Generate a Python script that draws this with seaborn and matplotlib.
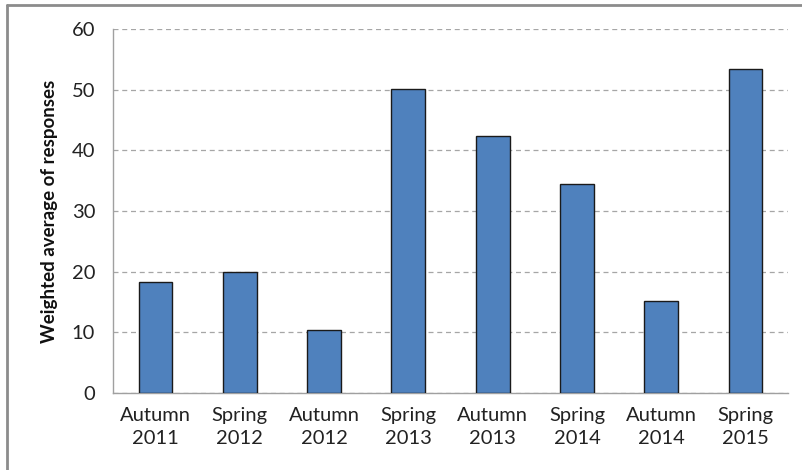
import matplotlib
matplotlib.use("Agg")
import matplotlib.pyplot as plt
from matplotlib.lines import Line2D
import pandas as pd
import seaborn as sns

# datos
periodos = ['Autumn\n2011', 'Spring\n2012', 'Autumn\n2012', 'Spring\n2013',
            'Autumn\n2013', 'Spring\n2014', 'Autumn\n2014', 'Spring\n2015']
valores = [18.3, 19.9, 10.4, 50.1, 42.3, 34.5, 15.2, 53.5]
ticks_y = [0, 10, 20, 30, 40, 50, 60]

df = pd.DataFrame({'Periodo': periodos, 'Valor': valores})

sns.set_style('white')
plt.rcParams['font.family'] = ['Lato', 'DejaVu Sans']

fig = plt.figure(figsize=(8.03, 4.70), dpi=100)
ax = fig.add_axes([0.141, 0.164, 0.840, 0.774])

sns.barplot(data=df, x='Periodo', y='Valor', color='#4F81BD', saturation=1,
            width=0.4, edgecolor='#1a1a1a', linewidth=1, ax=ax, zorder=3)

ax.set_ylim(0, 60)
ax.set_xlim(-0.5, len(periodos) - 0.5)
ax.set_yticks(ticks_y)
ax.yaxis.grid(True, linestyle=(0, (4, 3)), color='#a6a6a6', linewidth=0.9)
ax.set_axisbelow(True)

# ticks estilo Excel: marcas entre categorias, etiquetas centradas
ax.set_xticks([i - 0.5 for i in range(len(periodos) + 1)])
ax.set_xticklabels([])
ax.set_xticks(range(len(periodos)), minor=True)
ax.set_xticklabels(periodos, minor=True, fontsize=14.5, color='#222222', linespacing=1.45)
ax.tick_params(axis='x', which='major', direction='out', length=5, color='#a0a0a0', width=1)
ax.tick_params(axis='x', which='minor', length=0, pad=10)
ax.tick_params(axis='y', direction='out', length=5, color='#a0a0a0', width=1,
               labelsize=14.5, labelcolor='#222222', pad=8)

for lado in ['top', 'right']:
    ax.spines[lado].set_visible(False)
for lado in ['left', 'bottom']:
    ax.spines[lado].set_color('#a0a0a0')
    ax.spines[lado].set_linewidth(1)

ax.set_xlabel('')
ax.set_ylabel('Weighted average of responses', fontsize=13.5, fontweight='bold',
              color='#111111', labelpad=10)

# marco del grafico (solo izquierda y arriba visibles)
fig.add_artist(Line2D([7 / 803, 7 / 803], [0, 1 - 5 / 470], color='#8c8c8c', linewidth=2,
                      transform=fig.transFigure))
fig.add_artist(Line2D([7 / 803, 1], [1 - 5 / 470, 1 - 5 / 470], color='#8c8c8c', linewidth=2,
                      transform=fig.transFigure))

fig.savefig('out.png', dpi=100)
